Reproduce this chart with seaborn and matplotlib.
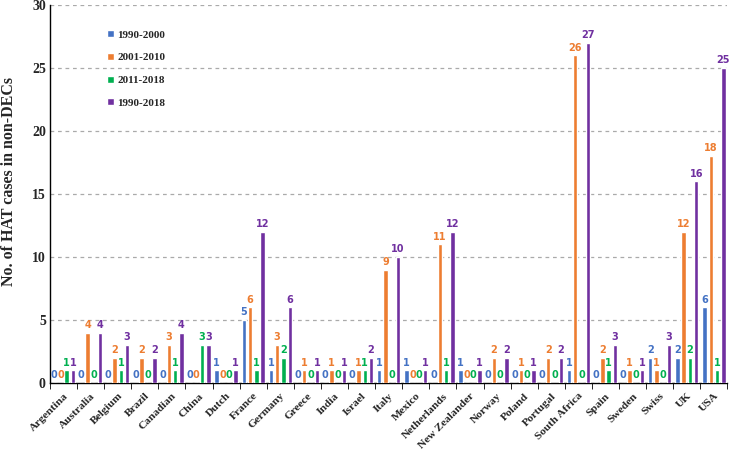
import matplotlib
matplotlib.use("Agg")
import matplotlib.pyplot as plt
import seaborn as sns
import pandas as pd
import numpy as np

countries = ["Argentina", "Australia", "Belgium", "Brazil", "Canadian", "China", "Dutch",
             "France", "Germany", "Greece", "India", "Israel", "Italy", "Mexico",
             "Netherlands", "New Zealander", "Norway", "Poland", "Portugal",
             "South Africa", "Spain", "Sweden", "Swiss", "UK", "USA"]
p1990_2000 = [0, 0, 0, 0, 0, 0, 1, 5, 1, 0, 0, 0, 1, 1, 0, 1, 0, 0, 0, 1, 0, 0, 2, 2, 6]
p2001_2010 = [0, 4, 2, 2, 3, 0, 0, 6, 3, 1, 1, 1, 9, 0, 11, 0, 2, 1, 2, 26, 2, 1, 1, 12, 18]
p2011_2018 = [1, 0, 1, 0, 1, 3, 0, 1, 2, 0, 0, 1, 0, 0, 1, 0, 0, 0, 0, 0, 1, 0, 0, 2, 1]
p1990_2018 = [1, 4, 3, 2, 4, 3, 1, 12, 6, 1, 1, 2, 10, 1, 12, 1, 2, 1, 2, 27, 3, 1, 3, 16, 25]
periods = ["1990-2000", "2001-2010", "2011-2018", "1990-2018"]
colors = ["#4472C4", "#ED7D31", "#00B050", "#7030A0"]

series = [p1990_2000, p2001_2010, p2011_2018, p1990_2018]
rows = []
for per, vals in zip(periods, series):
    for c, v in zip(countries, vals):
        rows.append({"Country": c, "Period": per, "Cases": v})
df = pd.DataFrame(rows)

sns.set_style("white")
plt.rcParams["font.family"] = ["Liberation Serif", "DejaVu Serif"]
plt.rcParams["font.weight"] = "bold"

fig = plt.figure(figsize=(7.3, 4.49), dpi=100)
ax = fig.add_axes([0.0685, 0.147, 0.928, 0.842])

sns.barplot(data=df, x="Country", y="Cases", hue="Period", hue_order=periods,
            order=countries, palette=colors, width=0.93, gap=0.3, ax=ax,
            saturation=1, legend=True, zorder=3)

for cont, col in zip(ax.containers, colors):
    ax.bar_label(cont, labels=[f"{int(b.get_height())}" for b in cont],
                 color=col, fontsize=7, fontweight="bold", padding=2,
                 family=["DejaVu Sans"])

ax.set_ylim(0, 30)
ax.set_xlim(-0.5, len(countries) - 0.5)
ax.set_yticks(np.arange(0, 31, 5))
ax.yaxis.grid(True, linestyle=(0, (3, 3)), color="#AAAAAA", linewidth=0.9, zorder=0)
ax.set_axisbelow(True)
for s in ["top", "right"]:
    ax.spines[s].set_visible(False)
for s in ["left", "bottom"]:
    ax.spines[s].set_color("black")
    ax.spines[s].set_linewidth(1.0)

ax.set_xticks(range(len(countries)))
ax.set_xticklabels(countries, rotation=45, ha="right", rotation_mode="anchor",
                   fontsize=8.2, fontweight="bold")
ax.tick_params(axis="x", which="major", length=0, pad=6)
ax.set_xticks(np.arange(-0.5, len(countries), 1), minor=True)
ax.tick_params(axis="x", which="minor", length=4, direction="out", color="black", bottom=True)
ax.tick_params(axis="y", which="major", length=0, labelsize=10, pad=3)
for t in ax.get_yticklabels():
    t.set_fontweight("bold")

ax.set_xlabel("")
ax.set_ylabel("No. of HAT cases in non-DECs", fontsize=11.5, fontweight="bold")
ax.yaxis.set_label_coords(-0.049, 0.534)

handles, labels = ax.get_legend_handles_labels()
ax.legend(handles, labels, loc="upper left", bbox_to_anchor=(0.07, 0.96),
          frameon=False, prop={"size": 8, "weight": "bold"},
          handlelength=0.6, handleheight=0.6, handletextpad=0.3, labelspacing=1.2)

fig.savefig("out.png", dpi=100)
